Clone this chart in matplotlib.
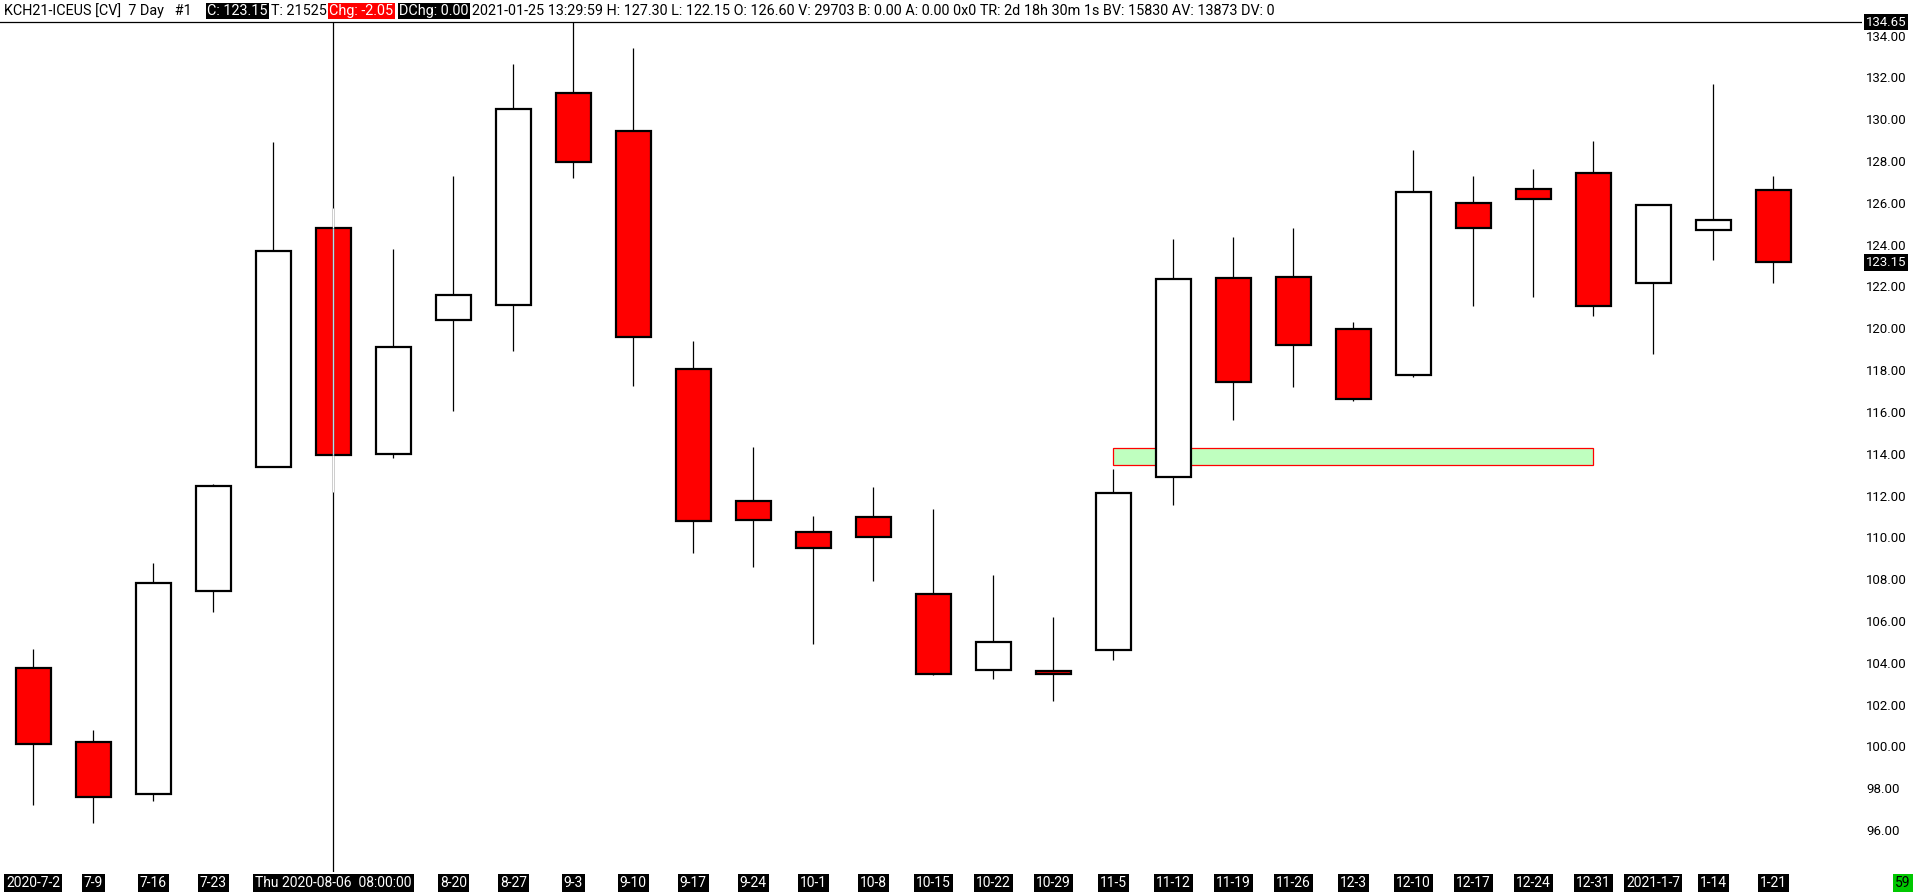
import matplotlib
matplotlib.use('Agg')
import matplotlib.pyplot as plt
import matplotlib.transforms as mtrans
from matplotlib import font_manager

# Weekly candles, KCH21-ICEUS.
dates = ['2020-7-2', '7-9', '7-16', '7-23', '7-30', '8-6', '8-13', '8-20', '8-27', '9-3',
         '9-10', '9-17', '9-24', '10-1', '10-8', '10-15', '10-22', '10-29', '11-5', '11-12',
         '11-19', '11-26', '12-3', '12-10', '12-17', '12-24', '12-31', '2021-1-7', '1-14', '1-21']
opens = [103.75, 100.20, 97.70, 107.45, 113.35, 124.80, 114.00, 120.40, 121.10, 131.25,
         129.45, 118.05, 111.75, 110.25, 110.95, 107.30, 103.65, 103.60, 104.60, 112.90,
         122.40, 122.45, 119.95, 117.75, 126.00, 126.65, 127.45, 122.15, 124.70, 126.60]
highs = [104.65, 100.80, 108.75, 112.55, 128.90, 125.75, 123.80, 127.30, 132.65, 134.65,
         133.40, 119.40, 114.30, 111.00, 112.40, 111.35, 108.20, 106.20, 113.25, 124.25,
         124.35, 124.80, 120.30, 128.55, 127.30, 127.60, 128.95, 125.95, 131.70, 127.30]
lows = [97.20, 96.35, 97.40, 106.45, 113.35, 112.15, 113.80, 116.05, 118.90, 127.20,
        117.25, 109.25, 108.60, 104.90, 107.90, 103.40, 103.20, 102.15, 104.15, 111.55,
        115.60, 117.20, 116.50, 117.65, 121.05, 121.50, 120.60, 118.75, 123.25, 122.15]
closes = [100.10, 97.60, 107.80, 112.45, 123.70, 113.95, 119.10, 121.60, 130.50, 127.95,
          119.60, 110.80, 110.85, 109.50, 110.00, 103.45, 105.00, 103.45, 112.10, 122.35,
          117.45, 119.20, 116.60, 126.50, 124.80, 126.20, 121.05, 125.90, 125.20, 123.15]

# Support zone (from candle index to index, price band).
zone_start, zone_end = 18, 26
zone_low, zone_high = 113.45, 114.25

# Crosshair position.
cross_idx = 5
cross_price = 134.65
cross_label = 'Thu 2020-08-06  08:00:00'
last_price = 123.15
bar_count = '59'

header_parts = ['KCH21-ICEUS [CV]  7 Day   #1', 'C: 123.15', 'T: 21525', 'Chg: -2.05', 'DChg: 0.00',
                '2021-01-25 13:29:59 H: 127.30 L: 122.15 O: 126.60 V: 29703 B: 0.00 A: 0.00 0x0 '
                'TR: 2d 18h 30m 1s BV: 15830 AV: 13873 DV: 0']

W, H = 1916, 896
# A narrow face looks closer to the original UI font, if there is one.
names = {f.name for f in font_manager.fontManager.ttflist}
FONT = 'Liberation Sans Narrow' if 'Liberation Sans Narrow' in names else 'Roboto'
TICKFONT = 'Roboto'

fig = plt.figure(figsize=(W / 100, H / 100), dpi=100)
fig.patch.set_facecolor('white')
# Plot area in pixels: x 0..1862, y 20..872 (from top).
ax = fig.add_axes([0, (H - 872) / H, 1862 / W, 852 / H])
ax.set_xlim(-0.555, 30.478)
ax.set_ylim(93.99, 134.747)
for s in ax.spines.values():
    s.set_visible(False)
ax.set_xticks([])
ax.yaxis.tick_right()
ticks = list(range(96, 136, 2))
ax.set_yticks(ticks)
ax.set_yticklabels([f'{t:.2f}' for t in ticks], fontsize=9.5, family=TICKFONT)
ax.tick_params(axis='y', length=0, pad=3)

x = list(range(len(dates)))
up = [c >= o for o, c in zip(opens, closes)]

# Wicks.
ax.vlines(x, lows, highs, color='black', lw=0.9, zorder=2)

# Bodies.
bottoms = [min(o, c) for o, c in zip(opens, closes)]
heights = [max(abs(c - o), 0.06) for o, c in zip(opens, closes)]
colors = ['white' if u else '#ff0000' for u in up]
ax.bar(x, heights, bottom=bottoms, width=0.58, color=colors, edgecolor='black', lw=1.6, zorder=3)

# Support zone rectangle.
ax.add_patch(plt.Rectangle((zone_start, zone_low), zone_end - zone_start, zone_high - zone_low,
                           facecolor='#bfffbf', edgecolor='#ff0000', lw=0.9, zorder=2.5))

# Crosshair (XOR look: white over wick, pale blue inside body).
ci = cross_idx
ax.vlines(ci, 93.99, cross_price, color='black', lw=0.9, zorder=4)
ax.vlines(ci, max(opens[ci], closes[ci]), highs[ci], color='white', lw=1.0, zorder=4.1)
ax.vlines(ci, lows[ci], min(opens[ci], closes[ci]), color='white', lw=1.0, zorder=4.1)
ax.vlines(ci, min(opens[ci], closes[ci]), max(opens[ci], closes[ci]), color='#a8e4f0', lw=1.0, zorder=4.1)
ax.axhline(cross_price, color='black', lw=0.9, zorder=4)

# Price boxes on the right axis.
ytrans = mtrans.blended_transform_factory(ax.transAxes, ax.transData)
for p in [cross_price, last_price]:
    ax.text(1.0 + 4 / 1862, p, f'{p:.2f}', transform=ytrans, ha='left', va='center',
            fontsize=9.5, family=TICKFONT, color='white', clip_on=False, zorder=10,
            bbox=dict(boxstyle='square,pad=0.12', fc='black', ec='none'))

# Date labels under the candles; the crosshair readout hides its neighbours.
xtrans = mtrans.blended_transform_factory(ax.transData, ax.transAxes)
label_y = -11 / 852
lab_fs = 11.5 if FONT != 'Roboto' else 10
for i, d in enumerate(dates):
    if abs(i - ci) == 1:
        continue
    if i == ci:
        d = cross_label
    ax.text(i, label_y, d, transform=xtrans, ha='center', va='center', fontsize=lab_fs, family=FONT,
            color='white', clip_on=False, zorder=8,
            bbox=dict(boxstyle='square,pad=0.15', fc='black', ec='none'))

# Bar counter bottom right.
fig.text(1903 / W, (H - 883) / H, bar_count, ha='center', va='center', fontsize=lab_fs, family=FONT,
         color='black', bbox=dict(boxstyle='square,pad=0.15', fc='#00c800', ec='none'))

# Header line, pieces placed at their pixel positions.
starts = [4, 207, 271, 329, 399, 472]
styles = [('black', None), ('white', 'black'), ('black', None), ('white', '#ff0000'),
          ('white', 'black'), ('black', None)]
renderer = fig.canvas.get_renderer()
hy = (H - 11) / H
texts = []
for s, x0, (fc, bg) in zip(header_parts, starts, styles):
    kw = dict(ha='left', va='center', fontsize=11, family=FONT, color=fc)
    if bg:
        kw['bbox'] = dict(boxstyle='square,pad=0.1', fc=bg, ec='none')
    texts.append(fig.text(x0 / W, hy, s, **kw))
# Fit the font size so the long tail spans the same width as the reference.
w = texts[-1].get_window_extent(renderer).width
fs = 11 * 810 / w
for t in texts:
    t.set_fontsize(fs)

fig.savefig('out.png', dpi=100)
